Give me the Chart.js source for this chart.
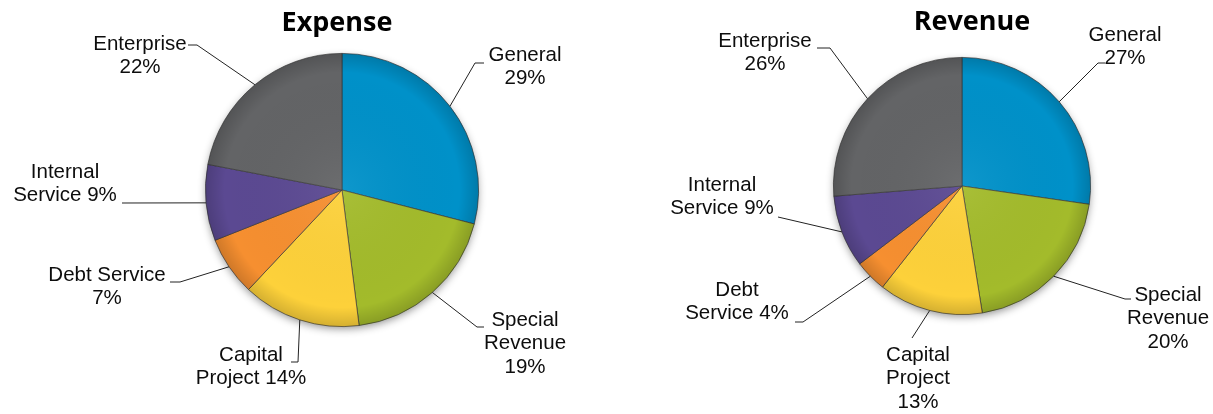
<!DOCTYPE html>
<html>
<head>
<meta charset="utf-8">
<title>Expense and Revenue</title>
<script src="https://cdn.jsdelivr.net/npm/chart.js@4.4.1/dist/chart.umd.min.js"></script>
<style>
  html, body { margin: 0; padding: 0; background: #fff; }
  #wrap { position: relative; width: 1213px; height: 414px; overflow: hidden; }
  #wrap canvas { position: absolute; top: 0; }
  #expense-chart { left: 0; }
  #revenue-chart { left: 606px; }
</style>
</head>
<body>
<div id="wrap">
  <canvas id="expense-chart" width="606" height="414"></canvas>
  <canvas id="revenue-chart" width="607" height="414"></canvas>
</div>
<script>
// --- Data ---
const categories = ['General', 'Special Revenue', 'Capital Project', 'Debt Service', 'Internal Service', 'Enterprise'];
const expenseValues = [29, 19, 14, 7, 9, 22];
const revenueValues = [27, 20, 13, 4, 9, 26];
const sliceColors = ['#0091c9', '#a3bb2b', '#fdd13a', '#f68f30', '#5b4992', '#636466'];

// How many words go on each line of a callout ("Capital Project 14%" -> [1, 2])
const expenseWrap = [[1, 1], [1, 1, 1], [1, 2], [2, 1], [1, 2], [1, 1]];
const revenueWrap = [[1, 1], [1, 1, 1], [1, 1, 1], [1, 2], [1, 2], [1, 1]];

// Callout placement, relative to the pie centre: text centre (first line) and leader bend points
const expenseCallouts = [
    { tx: 183, ty: -135, pts: [[133, -127], [142, -127]] },
    { tx: 183, ty: 130, pts: [[135, 137], [142, 137]] },
    { tx: -91, ty: 165, pts: [[-44, 172], [-51, 172]] },
    { tx: -235, ty: 85, pts: [[-162, 92], [-172, 92]] },
    { tx: -277, ty: -18, pts: [[-220, 13]] },
    { tx: -202, ty: -146, pts: [[-145, -145], [-154, -145]] }
];
const revenueCallouts = [
    { tx: 163, ty: -151, pts: [[136, -123], [143, -123]] },
    { tx: 206, ty: 109, pts: [[163, 113], [169, 113]] },
    { tx: -44, ty: 169, pts: [[-50, 152]] },
    { tx: -225, ty: 104, pts: [[-159, 136], [-167, 136]] },
    { tx: -240, ty: -1, pts: [[-184, 31]] },
    { tx: -197, ty: -145, pts: [[-132, -138], [-145, -138]] }
];

function wrapLabel(name, value, wrap) {
    const words = `${name} ${value}%`.split(' ');
    const lines = [];
    let i = 0;
    wrap.forEach(n => {
        lines.push(words.slice(i, i + n).join(' '));
        i += n;
    });
    return lines;
}

// Soft drop shadow under the pie, rim shading, title and the callouts with leader lines
const pieDecor = {
    id: 'pieDecor',
    beforeDatasetsDraw(chart, args, opts) {
        const arc = chart.getDatasetMeta(0).data[0];
        if (!arc) return;
        const ctx = chart.ctx;
        ctx.save();
        ctx.beginPath();
        ctx.arc(arc.x, arc.y, arc.outerRadius - 1, 0, Math.PI * 2);
        ctx.fillStyle = '#fff';
        ctx.shadowColor = 'rgba(0,0,0,0.45)';
        ctx.shadowBlur = 9;
        ctx.shadowOffsetY = 3;
        ctx.fill();
        ctx.restore();
    },
    afterDatasetsDraw(chart, args, opts) {
        const meta = chart.getDatasetMeta(0);
        const first = meta.data[0];
        if (!first) return;
        const ctx = chart.ctx;
        const cx = first.x, cy = first.y, r = first.outerRadius;

        // darker rim for a slight bevel look
        ctx.save();
        const g = ctx.createRadialGradient(cx, cy, 0, cx, cy, r);
        g.addColorStop(0, 'rgba(255,255,255,0.06)');
        g.addColorStop(0.86, 'rgba(0,0,0,0)');
        g.addColorStop(1, 'rgba(0,0,0,0.16)');
        ctx.beginPath();
        ctx.arc(cx, cy, r, 0, Math.PI * 2);
        ctx.fillStyle = g;
        ctx.fill();
        ctx.restore();

        // title
        ctx.save();
        ctx.font = 'bold 27px "Open Sans", sans-serif';
        ctx.fillStyle = '#000';
        ctx.textAlign = 'center';
        ctx.textBaseline = 'middle';
        ctx.fillText(opts.title, cx + opts.titleDx, opts.titleY);
        ctx.restore();

        // callouts
        const values = chart.data.datasets[0].data;
        ctx.save();
        ctx.font = '20.5px "Liberation Sans", Arial, sans-serif';
        ctx.fillStyle = '#0d0d0d';
        ctx.textAlign = 'center';
        ctx.textBaseline = 'middle';
        ctx.strokeStyle = '#222';
        ctx.lineWidth = 1;
        meta.data.forEach((el, i) => {
            const c = opts.callouts[i];
            const mid = (el.startAngle + el.endAngle) / 2;
            ctx.beginPath();
            ctx.moveTo(cx + Math.cos(mid) * r, cy + Math.sin(mid) * r);
            c.pts.forEach(p => ctx.lineTo(cx + p[0], cy + p[1]));
            ctx.stroke();

            const lines = wrapLabel(chart.data.labels[i], values[i], opts.wrap[i]);
            lines.forEach((line, k) => {
                ctx.fillText(line, cx + c.tx, cy + c.ty + k * 23.5);
            });
        });
        ctx.restore();
    }
};

function makePie(canvasId, values, title, titleDx, titleY, wrap, callouts, padding) {
    return new Chart(document.getElementById(canvasId), {
        type: 'pie',
        data: {
            labels: categories,
            datasets: [{
                data: values,
                backgroundColor: sliceColors,
                borderColor: 'rgba(55,55,55,0.85)',
                borderWidth: 0.8
            }]
        },
        options: {
            responsive: false,
            animation: false,
            devicePixelRatio: 1,
            layout: { padding: padding },
            plugins: {
                legend: { display: false },
                tooltip: { enabled: false },
                pieDecor: { title: title, titleDx: titleDx, titleY: titleY, wrap: wrap, callouts: callouts }
            }
        },
        plugins: [pieDecor]
    });
}

makePie('expense-chart', expenseValues, 'Expense', -5, 23, expenseWrap, expenseCallouts,
    { left: 205, right: 127, top: 53, bottom: 87 });
makePie('revenue-chart', revenueValues, 'Revenue', 10, 22, revenueWrap, revenueCallouts,
    { left: 227, right: 122, top: 57, bottom: 99 });
</script>
</body>
</html>
